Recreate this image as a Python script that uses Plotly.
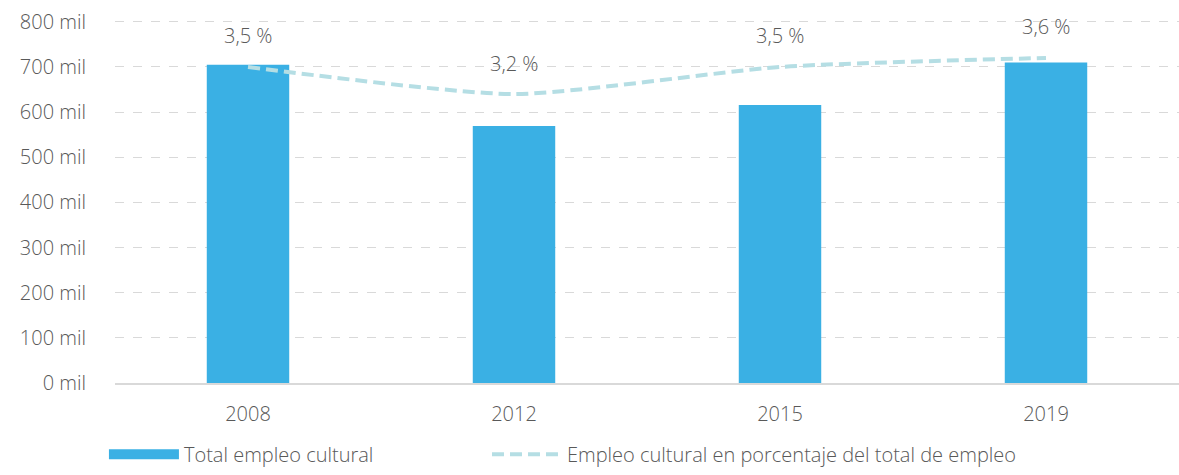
import plotly.graph_objects as go

years = ["2008", "2012", "2015", "2019"]
empleo_total = [705000, 569000, 616000, 710000]
empleo_pct = [3.5, 3.2, 3.5, 3.6]
y_ticks = [0, 100000, 200000, 300000, 400000, 500000, 600000, 700000, 800000]
y_tick_labels = ["0 mil", "100 mil", "200 mil", "300 mil", "400 mil",
                 "500 mil", "600 mil", "700 mil", "800 mil"]

BAR_COLOR = "#3AB0E4"
LINE_COLOR = "#B5DEE4"
TEXT_COLOR = "#595959"
GRID_COLOR = "#D9D9D9"
FONT = "'Open Sans', Lato, sans-serif"
FONT_WEIGHT = 300

fig = go.Figure()

fig.add_trace(go.Bar(
    x=years,
    y=empleo_total,
    marker=dict(color=BAR_COLOR, line=dict(width=0)),
    width=0.31,
    name="Total empleo cultural",
    showlegend=False,
))
# legend proxy so the bar key is drawn as a long rectangle
fig.add_trace(go.Scatter(
    x=[None], y=[None], mode="lines",
    line=dict(color=BAR_COLOR, width=13),
    name="Total empleo cultural",
    legend="legend",
))
fig.add_trace(go.Scatter(
    x=years,
    y=empleo_pct,
    mode="lines",
    yaxis="y2",
    line=dict(color=LINE_COLOR, width=4, dash="12px,6px", shape="spline", smoothing=0.6),
    name="Empleo cultural en porcentaje del total de empleo",
    legend="legend2",
))

# category index so the annotation is not read as a numeric x value
for i, pct in enumerate(empleo_pct):
    fig.add_annotation(
        x=i, y=pct, yref="y2",
        text=f"{pct:.1f}".replace(".", ",") + " %",
        showarrow=False, yshift=31,
        font=dict(size=20, color=TEXT_COLOR, family=FONT, weight=FONT_WEIGHT),
    )

legend_style = dict(
    orientation="h",
    xanchor="left",
    y=-0.25,
    yanchor="bottom",
    itemwidth=70,
    font=dict(size=20, color=TEXT_COLOR, weight=FONT_WEIGHT),
    bgcolor="rgba(0,0,0,0)",
)

fig.update_layout(
    width=1179,
    height=475,
    margin=dict(l=115, r=0, t=20, b=92),
    paper_bgcolor="white",
    plot_bgcolor="white",
    font=dict(family=FONT, size=20, color=TEXT_COLOR, weight=FONT_WEIGHT),
    bargap=0.69,
    xaxis=dict(
        type="category",
        range=[-0.5, 3.5],
        showgrid=False,
        showline=True,
        linecolor=GRID_COLOR,
        linewidth=2,
        ticks="",
        ticklabelstandoff=12,
        tickfont=dict(size=20, color=TEXT_COLOR, weight=FONT_WEIGHT),
    ),
    yaxis=dict(
        range=[0, 804000],
        tickvals=y_ticks,
        ticktext=y_tick_labels,
        showgrid=True,
        gridcolor=GRID_COLOR,
        griddash="dash",
        gridwidth=1,
        zeroline=False,
        ticks="",
        ticklabelstandoff=28,
        ticklabeloverflow="allow",
        tickfont=dict(size=20, color=TEXT_COLOR, weight=FONT_WEIGHT),
    ),
    yaxis2=dict(
        range=[0, 4.02],
        overlaying="y",
        side="right",
        visible=False,
    ),
    legend=dict(x=-0.0104, **legend_style),
    legend2=dict(x=0.3496, **legend_style),
)

# drop the default page margin so the figure fills the window exactly
fig.write_html(
    "out.html",
    config={"displayModeBar": False},
    post_script="document.body.style.margin='0';",
)
